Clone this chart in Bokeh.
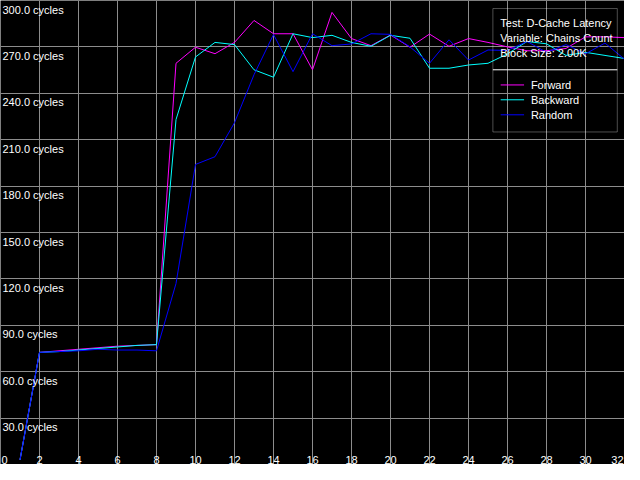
from bokeh.plotting import figure
from bokeh.models import Range1d, Grid, FixedTicker, ColumnDataSource, BoxAnnotation
from bokeh.core.properties import value, field
from bokeh.embed import file_html
from bokeh.resources import INLINE

# ---- data ----
chain_counts = list(range(1, 33))
forward = [3, 72.5, 73.5, 74.5, 75.5, 76.5, 77, 77.5, 259.4, 269.8, 265.6, 272.9,
           287.1, 278.5, 278.5, 255.2, 292.3, 275.4, 270.8, 277.7, 269.8, 278.3,
           270.4, 275.4, 272.9, 270, 267.5, 267.5, 269, 276.5, 276.5, 276]
backward = [3, 72.5, 73, 74, 75, 76, 77, 77.5, 223, 263.5, 272.9, 271.5,
            255.2, 250.4, 278.5, 276, 277.5, 272.9, 270.4, 277.5, 275.6, 256.2,
            256.2, 258.3, 259.4, 265.5, 273.5, 272, 264.5, 266.5, 264.5, 262.5]
random_ = [3, 72.5, 73, 73.5, 74.5, 74, 74, 73.5, 117, 194, 199, 221,
           252, 278, 254, 278.5, 270.8, 271.9, 278.5, 278.1, 270, 259.4,
           274.6, 261.5, 268, 267.7, 273.5, 266.5, 271.5, 265.5, 272.5, 262]
series_names = ["Forward", "Backward", "Random"]
series_colors = ["#ff00ff", "#00ffff", "#0000ff"]

x_tick_values = list(range(0, 33, 2))
x_tick_labels = [str(v) for v in x_tick_values]
y_tick_values = [30, 60, 90, 120, 150, 180, 210, 240, 270, 300]
y_tick_labels = ["30.0 cycles", "60.0 cycles", "90.0 cycles", "120.0 cycles",
                 "150.0 cycles", "180.0 cycles", "210.0 cycles", "240.0 cycles",
                 "270.0 cycles", "300.0 cycles"]
info_lines = ["Test: D-Cache Latency", "Variable: Chains Count", "Block Size: 2.00K"]

FONT = value("Liberation Sans")
FSIZE = value("11px")
GRID = "#8c8c8c"

p = figure(width=624, height=464, output_backend="svg", toolbar_location=None,
           x_range=Range1d(0, 32), y_range=Range1d(0, 300),
           x_axis_type=None, y_axis_type=None,
           min_border=0, min_border_left=0, min_border_right=0,
           min_border_top=0, min_border_bottom=0,
           background_fill_color="black", border_fill_color="black",
           outline_line_color=None)

p.add_layout(Grid(dimension=0, ticker=FixedTicker(ticks=x_tick_values[1:-1]),
                  grid_line_color=GRID, grid_line_width=1))
p.add_layout(Grid(dimension=1, ticker=FixedTicker(ticks=y_tick_values[:-1]),
                  grid_line_color=GRID, grid_line_width=1))

for ys, color in zip([forward, backward, random_], series_colors):
    p.line(chain_counts, ys, line_color=color, line_width=1)

# y tick labels (inside plot)
p.text(x=[0] * len(y_tick_values), y=y_tick_values, text=y_tick_labels,
       x_offset=2, y_offset=3, text_align="left", text_baseline="top",
       text_color="white", text_font=FONT, text_font_size=FSIZE)

# x tick labels (inside plot)
aligns = ["left"] + ["center"] * (len(x_tick_values) - 2) + ["right"]
xoffs = [1] + [0] * (len(x_tick_values) - 2) + [-1]
xsrc = ColumnDataSource(dict(x=x_tick_values, y=[0] * len(x_tick_values),
                             t=x_tick_labels, a=aligns, o=xoffs))
p.text(x="x", y="y", text="t", source=xsrc, text_align=field("a"),
       x_offset=field("o"), text_baseline="bottom", y_offset=-1,
       text_color="white", text_font=FONT, text_font_size=FSIZE)

# legend box
box_l, box_r, box_b, box_t, div_y = 25.25, 31.63, 215, 294.8, 255.2
p.add_layout(BoxAnnotation(left=box_l, right=box_r, bottom=box_b, top=box_t,
                           fill_alpha=0, line_color="white", line_width=1))
p.segment(x0=[box_l], x1=[box_r], y0=[div_y], y1=[div_y], line_color="white", line_width=1)
p.text(x=[25.63] * 3, y=[285.4, 275.6, 266.1], text=info_lines,
       text_align="left", text_baseline="middle",
       text_color="white", text_font=FONT, text_font_size=FSIZE)
entry_y = [245.4, 235.8, 226.1]
p.segment(x0=[25.65] * 3, x1=[26.85] * 3, y0=entry_y, y1=entry_y,
          line_color=series_colors, line_width=1)
p.text(x=[27.2] * 3, y=entry_y, text=series_names,
       text_align="left", text_baseline="middle",
       text_color="white", text_font=FONT, text_font_size=FSIZE)

open("out.html", "w").write(file_html(p, INLINE))
